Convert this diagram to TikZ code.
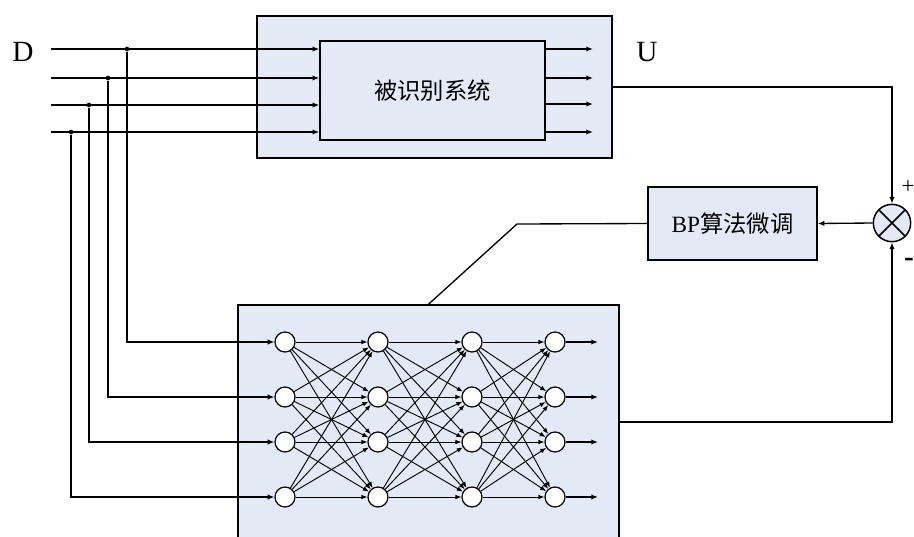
\documentclass[tikz,border=0pt]{standalone}
\usepackage{fontspec}
\setmainfont{Liberation Serif}
\newfontfamily\cjk{Noto Sans CJK SC}
\usetikzlibrary{arrows.meta,positioning}
\definecolor{boxfill}{RGB}{227,234,246}
\tikzset{
  blk/.style={
    draw,rectangle,line width=1.1pt,fill=boxfill,inner sep=0pt
  },
  neuron/.style={draw,circle,fill=white,minimum size=15pt,inner sep=0pt,line width=0.9pt},
  jdot/.style={circle,fill,inner sep=0pt,minimum size=3.5pt},
  wire/.style={line width=1pt},
  conn/.style={-{Latex[length=5pt,width=4pt]},line width=1pt},
  syn/.style={-{Latex[length=4.5pt,width=3.5pt]},line width=0.7pt}
}

\begin{document}
\begin{tikzpicture}[x=0.75pt,y=-0.75pt]
\useasboundingbox (0,0) rectangle (914,536);
\clip (0,0) rectangle (914,536);

% plant
\node[blk,minimum width=266.25pt,minimum height=106.5pt] (plant) at (434.5,87) {};
\node[blk,fill=boxfill,minimum width=168.75pt,minimum height=74.25pt] (sys) at (432.5,90.5)
  {\fontsize{17.5}{20}\selectfont\cjk 被识别系统};

% network
\node[blk,minimum width=285.75pt,minimum height=175.5pt] (nn) at (428.5,422) {};

% error and tuning
\node[blk,circle,minimum size=28pt,line width=1.1pt] (sum) at (892,223) {};
\draw[line width=1.1pt] (sum.north west) -- (sum.south east)
  (sum.north east) -- (sum.south west);
\node[blk,minimum width=126.75pt,minimum height=54.75pt] (bp) at (732.5,223.5)
  {\fontsize{17.5}{20}\selectfont BP{\cjk 算法微调}};

\node (dlab) at (23,52) {\fontsize{22}{24}\selectfont D};
\node (ulab) at (647,52) {\fontsize{22}{24}\selectfont U};
\node (plus) at (908,187) {\fontsize{17}{18}\selectfont +};
\node (minus) at (909,262) {\fontsize{22}{22}\selectfont\bfseries -};

% neurons
\foreach \c/\x in {1/285,2/378,3/472,4/555}
  \foreach \r/\y in {1/342,2/397,3/442,4/497}
    \node[neuron] (n\c\r) at (\x,\y) {};

\foreach \c/\d in {1/2,2/3,3/4}
  \foreach \r in {1,...,4}
    \foreach \s in {1,...,4}
      \draw[syn] (n\c\r) -- (n\d\s);

\foreach \r/\y in {1/342,2/397,3/442,4/497} {
  \coordinate (out\r) at (598,\y);
  \draw[conn] (n4\r) -- (out\r);
}

% inputs
\foreach \i/\y/\jx in {1/49/127,2/78/108,3/105/89,4/132/71} {
  \coordinate (in\i) at (51,\y);
  \node[jdot] (j\i) at (\jx,\y) {};
  \draw[conn] (in\i) -- (in\i -| sys.west);
  \draw[conn] (j\i) |- (n1\i);
}

% plant outputs
\foreach \i/\y in {1/49,2/78,3/104,4/132} {
  \coordinate (y\i) at (593,\y);
  \draw[conn] (y\i -| sys.east) -- (y\i);
}

\coordinate (bend) at (517,224);
\draw[conn] (plant.east) -| (sum.north);
\draw[conn] (nn.east) -| (sum.south);
\draw[conn] (sum.west) -- (bp.east);
\draw[wire] (bp.west) -- (bend) -- (nn.north);

\end{tikzpicture}
\end{document}
